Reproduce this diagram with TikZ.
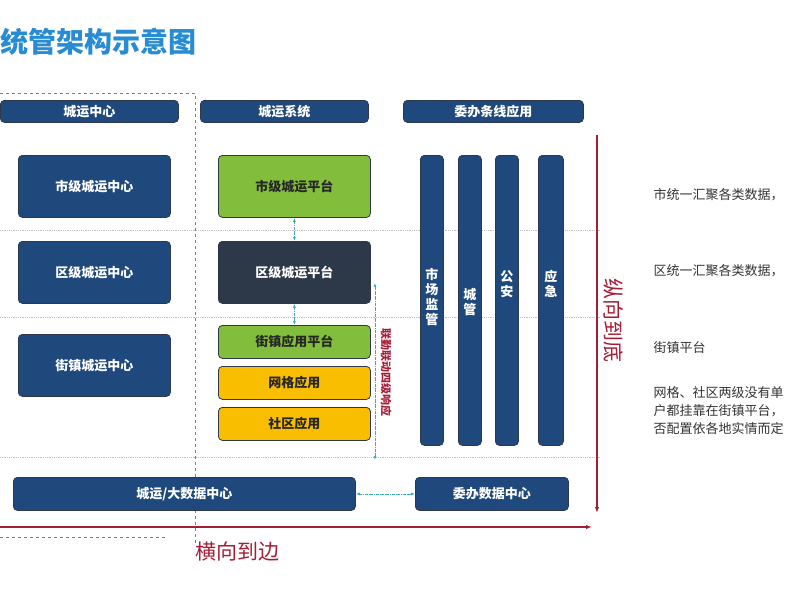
\documentclass[tikz,border=0pt]{standalone}
\usepackage{fontspec}
\setmainfont{Noto Sans CJK SC}
\usetikzlibrary{arrows.meta}
\definecolor{navy}{RGB}{31,73,125}
\definecolor{slate}{RGB}{45,56,72}
\definecolor{leaf}{RGB}{130,190,60}
\definecolor{amber}{RGB}{250,190,0}
\definecolor{crimson}{RGB}{165,30,55}
\definecolor{sky}{RGB}{40,140,210}
\definecolor{teal}{RGB}{60,170,190}
\begin{document}
\begin{tikzpicture}[x=1pt,y=-1pt]
\tikzstyle{every node}=[font=\fontsize{13}{15}\selectfont\bfseries]
\tikzstyle{box}=[draw=slate, line width=0.8pt, rounded corners=4pt, inner sep=0pt, text=white, anchor=north west]
\tikzstyle{head}=[box, fill=navy, minimum height=22pt]
\tikzstyle{center}=[box, fill=navy, minimum width=152pt, minimum height=62pt]
\tikzstyle{plat}=[box, minimum width=152pt]
\tikzstyle{column}=[box, fill=navy, minimum height=290pt, align=center]
\tikzstyle{link}=[teal, densely dashdotted, line width=0.8pt, {Latex[length=4pt]}-{Latex[length=4pt]}]
\tikzstyle{level}=[gray!50, densely dotted, line width=0.8pt]
\tikzstyle{axis}=[crimson, line width=1.2pt, -{Latex[length=6pt]}]
\tikzstyle{note}=[font=\fontsize{13}{18}\selectfont, text=black!80, anchor=west, align=left]

\useasboundingbox (0,0) rectangle (800,600);
\clip (0,0) rectangle (800,600);

% title
\node[anchor=east, text=sky, font=\fontsize{28}{32}\selectfont\bfseries] (title) at (200,42) {统管架构示意图};

% levels
\foreach \y in {230,317,457} \draw[level] (0,\y) -- (600,\y);
\draw[gray, dashed, line width=0.8pt] (0,93) -- (195,93) -- (195,545);
\draw[gray, dashed, line width=0.8pt] (0,537) -- (165,537);

% headers
\node[head, minimum width=178pt] (hcenter) at (0,100) {城运中心};
\node[head, minimum width=168pt] (hsys) at (200,100) {城运系统};
\node[head, minimum width=180pt] (happ) at (403,100) {委办条线应用};

% left column
\node[center] (city) at (18,155) {市级城运中心};
\node[center] (dist) at (18,241) {区级城运中心};
\node[center] (town) at (18,334) {街镇城运中心};

% middle column
\node[plat, fill=leaf, minimum height=62pt, text=black!85] (pcity) at (218,155) {市级城运平台};
\node[plat, fill=slate, minimum height=62pt] (pdist) at (218,241) {区级城运平台};
\node[plat, fill=leaf, minimum height=33pt, text=black!85] (ptown) at (218,325) {街镇应用平台};
\node[plat, fill=amber, minimum height=33pt, text=black!85] (grid) at (218,366) {网格应用};
\node[plat, fill=amber, minimum height=33pt, text=black!85] (comm) at (218,407) {社区应用};

% right columns
\node[column, minimum width=23pt] (market) at (420,155) {};
\node[column, minimum width=23pt] (urban) at (458,155) {};
\node[column, minimum width=23pt] (police) at (495,155) {};
\node[column, minimum width=25pt] (emerg) at (538,155) {};
\node[text=white, anchor=north, align=center] at ([yshift=-110pt]market.north) {市\\场\\监\\管};
\node[text=white, anchor=north, align=center] at ([yshift=-130pt]urban.north) {城\\管};
\node[text=white, anchor=north, align=center] at ([yshift=-112pt]police.north) {公\\安};
\node[text=white, anchor=north, align=center] at ([yshift=-112pt]emerg.north) {应\\急};

% data centers
\node[box, fill=navy, minimum width=342pt, minimum height=33pt] (bigdata) at (13,477) {城运/大数据中心};
\node[box, fill=navy, minimum width=153pt, minimum height=33pt] (dept) at (415,477) {委办数据中心};

% links
\draw[link] (pcity) -- (pdist);
\draw[link] (pdist) -- (ptown);
\coordinate (ltop) at (375,283);
\coordinate (lbot) at (375,460);
\draw[link] (ltop) -- (lbot);
\node[rotate=-90, text=crimson, font=\fontsize{11}{12}\selectfont\bfseries] (joint) at (386,372) {联勤联动四级响应};
\draw[link] (bigdata) -- (dept);

% axes
\coordinate (vtop) at (597,135);
\coordinate (vbot) at (597,513);
\draw[axis] (vtop) -- (vbot);
\coordinate (hleft) at (0,527);
\coordinate (hright) at (592,527);
\draw[axis] (hleft) -- (hright);
\node[text=crimson, font=\fontsize{21}{24}\selectfont] (horiz) at (237,552) {横向到边};
\node[rotate=-90, text=crimson, font=\fontsize{21}{24}\selectfont] (vert) at (613,320) {纵向到底};

% notes
\node[note] (n1) at (650,195) {市统一汇聚各类数据，};
\node[note] (n2) at (650,271) {区统一汇聚各类数据，};
\node[note] (n3) at (650,348) {街镇平台};
\node[note] (n4) at (650,411) {网格、社区两级没有单\\户都挂靠在街镇平台，\\否配置依各地实情而定};
\end{tikzpicture}
\end{document}
